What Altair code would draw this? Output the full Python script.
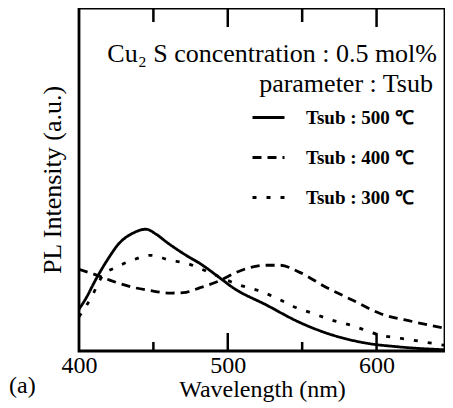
import altair as alt
import pandas as pd

series_names = ["Tsub : 500 ℃", "Tsub : 400 ℃", "Tsub : 300 ℃"]

wl_500 = [400, 405, 410, 419, 427, 436, 445, 452, 459, 472, 481, 495, 503, 526, 548, 570, 593, 615, 648]
int_500 = [12.2, 15.6, 19.8, 26.5, 31.4, 34.3, 35.5, 34.0, 31.7, 27.9, 25.6, 21.2, 18.6, 13.4, 8.4, 4.7, 2.3, 1.2, 0.3]

wl_400 = [400, 410, 421, 436, 448, 461, 470, 481, 495, 505, 513, 526, 535, 548, 566, 584, 602, 624, 648]
int_400 = [23.8, 22.4, 20.6, 18.6, 17.6, 16.9, 17.0, 18.4, 20.6, 22.8, 24.1, 25.0, 25.0, 23.0, 18.6, 14.8, 11.0, 8.6, 6.5]

wl_300 = [400, 408, 416, 425, 436, 448, 461, 472, 486, 508, 520, 533, 544, 557, 570, 582, 602, 624, 648]
int_300 = [10.0, 15.4, 22.0, 24.4, 26.5, 27.9, 26.5, 25.6, 23.2, 19.2, 17.7, 15.4, 13.0, 11.0, 9.0, 7.6, 4.7, 3.2, 1.5]

x_labels = [400, 500, 600]
major_ticks = [500, 600]
minor_ticks = [450, 550]
top_major = [500, 600]
top_minor = [450, 550]

note_line1 = "Cu₂ S concentration : 0.5 mol%"
note_line2 = "parameter : Tsub"
panel_label = "(a)"

rows = []
for name, wl, iv in zip(series_names, [wl_500, wl_400, wl_300], [int_500, int_400, int_300]):
    for w, v in zip(wl, iv):
        rows.append({"wl": w, "I": v, "s": name})
df = pd.DataFrame(rows)

serif = "'Liberation Serif', 'Times New Roman', Times, serif"
H = 343
W = 366
xscale = alt.Scale(domain=[400, 646], nice=False, zero=False)
yscale = alt.Scale(domain=[0, 100], nice=False, zero=False)
xaxis = alt.Axis(values=x_labels, title="Wavelength (nm)", labelFont=serif, labelFontSize=24,
                 titleFont=serif, titleFontSize=24, titleFontWeight="normal", ticks=False,
                 domain=False, grid=False, labelPadding=2, titlePadding=0, labelColor="black",
                 titleColor="black", format="d", labelFlush=False)
yaxis = alt.Axis(labels=False, ticks=False, domain=False, grid=False, title="PL Intensity (a.u.)",
                 titleFont=serif, titleFontSize=26, titleFontWeight="normal", titlePadding=14,
                 titleColor="black")


def xenc(field="wl"):
    return alt.X(f"{field}:Q", scale=xscale, axis=xaxis)


lines = alt.Chart(df).mark_line(color="black", strokeWidth=2.8, interpolate="monotone", clip=True).encode(
    x=xenc(),
    y=alt.Y("I:Q", scale=yscale, axis=yaxis),
    strokeDash=alt.StrokeDash(
        "s:N",
        scale=alt.Scale(domain=series_names, range=[[1, 0], [9, 6], [4, 10]]),
        legend=alt.Legend(title=None, orient="none", legendX=172, legendY=92, symbolType="stroke",
                          symbolSize=1024, symbolStrokeWidth=2.8, symbolStrokeColor="black",
                          labelFont=serif, labelFontSize=19, labelFontWeight="bold",
                          labelOffset=20, rowPadding=12, labelColor="black"),
    ),
    detail="s:N",
)


def tick_layer(vals, y1, y2):
    return alt.Chart(pd.DataFrame({"wl": vals})).mark_rule(color="black", strokeWidth=2.5).encode(
        x=xenc(), y=alt.value(y1), y2=alt.value(y2)
    )


ticks = [
    tick_layer(major_ticks, H, H - 18),
    tick_layer(minor_ticks, H, H - 9),
    tick_layer(top_major, 0, 19),
    tick_layer(top_minor, 0, 14),
]


def note(text, x, y, size, align="right"):
    return alt.Chart(pd.DataFrame({"t": [text]})).mark_text(
        align=align, baseline="alphabetic", font=serif, fontSize=size, color="black"
    ).encode(x=alt.value(x), y=alt.value(y), text="t:N")


notes = [
    note(note_line1, 358, 54, 26),
    note(note_line2, 354, 84, 26),
    note(panel_label, -70, 385, 24, align="left"),
]

chart = alt.layer(lines, *ticks, *notes).properties(
    width=W, height=H, padding={"left": 71, "top": 0, "right": 0, "bottom": 52}, autosize="none",
    background="white",
).configure_view(stroke="black", strokeWidth=2.8)

chart.save("out.html", embed_options={"renderer": "svg", "actions": False})
